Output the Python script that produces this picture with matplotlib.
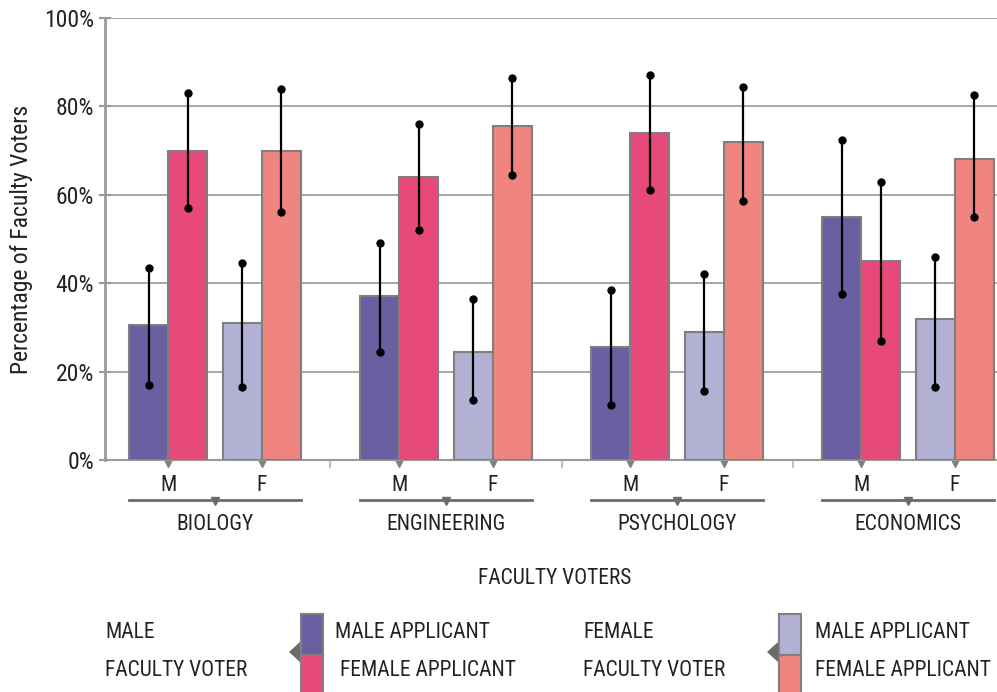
import numpy as np
import matplotlib.pyplot as plt
from matplotlib import font_manager
from matplotlib.patches import Rectangle, Polygon

# the reference uses a condensed sans; take the narrowest one that is installed
names = {f.name for f in font_manager.fontManager.ttflist}
fam = 'Liberation Sans'
fs, fs_ax = 13, 14
for cand, size, size_ax in [('Liberation Sans Narrow', 15.5, 17), ('Roboto Condensed', 15.5, 17),
                            ('DejaVu Sans Condensed', 13, 14), ('Roboto', 13.5, 14.5)]:
    if cand in names:
        fam, fs, fs_ax = cand, size, size_ax
        break
plt.rcParams['font.family'] = [fam, 'DejaVu Sans']

# data (percent)
departments = ['BIOLOGY', 'ENGINEERING', 'PSYCHOLOGY', 'ECONOMICS']
voters = ['M', 'F']

# male faculty voters
m_male_app = [30.5, 37.0, 25.5, 55.0]
m_male_lo = [17.0, 24.5, 12.5, 37.5]
m_male_hi = [43.5, 49.0, 38.5, 72.5]
m_fem_app = [70.0, 64.0, 74.0, 45.0]
m_fem_lo = [57.0, 52.0, 61.0, 27.0]
m_fem_hi = [83.0, 76.0, 87.0, 63.0]

# female faculty voters
f_male_app = [31.0, 24.5, 29.0, 32.0]
f_male_lo = [16.5, 13.5, 15.5, 16.5]
f_male_hi = [44.5, 36.5, 42.0, 46.0]
f_fem_app = [70.0, 75.5, 72.0, 68.0]
f_fem_lo = [56.0, 64.5, 58.5, 55.0]
f_fem_hi = [84.0, 86.5, 84.5, 82.5]

yticks = [0, 20, 40, 60, 80, 100]

c_mm = '#6a5fa0'
c_mf = '#e8497b'
c_fm = '#b3b1d3'
c_ff = '#f08580'
edge = '#7f7f7f'
grid = '#9a9a9a'
txt = '#222222'

fig = plt.figure(figsize=(9.97, 6.92), dpi=100)
ax = fig.add_axes([105 / 997, 1 - 460 / 692, 1 - 105 / 997, 442 / 692])

g = np.arange(len(departments))
w = 0.169
off = 0.203
pos_m = g - off
pos_f = g + off


def bars(x, vals, lo, hi, color):
    ax.bar(x, vals, w, color=color, edgecolor=edge, linewidth=1.5, zorder=3)
    for xi, l, h in zip(x, lo, hi):
        ax.plot([xi, xi], [l, h], color='black', lw=1.6, zorder=4)
        ax.plot([xi, xi], [l, h], 'o', color='black', ms=5, zorder=5)


bars(pos_m - w / 2, m_male_app, m_male_lo, m_male_hi, c_mm)
bars(pos_m + w / 2, m_fem_app, m_fem_lo, m_fem_hi, c_mf)
bars(pos_f - w / 2, f_male_app, f_male_lo, f_male_hi, c_fm)
bars(pos_f + w / 2, f_fem_app, f_fem_lo, f_fem_hi, c_ff)

ax.set_xlim(-0.476, 3.385)
ax.set_ylim(0, 100)
ax.set_yticks(yticks)
ax.set_yticklabels([f'{v}%' for v in yticks], fontsize=fs_ax, color=txt)
ax.tick_params(axis='y', direction='inout', length=8, width=1.5, color=grid, pad=4)
ax.tick_params(axis='x', length=0, labelbottom=False)
for v in yticks:
    ax.axhline(v, color=grid, lw=1.2, zorder=1)
for s in ['top', 'right']:
    ax.spines[s].set_visible(False)
ax.spines['left'].set_color(grid)
ax.spines['left'].set_linewidth(2)
ax.spines['bottom'].set_color(grid)
ax.spines['bottom'].set_linewidth(1.5)
ax.set_ylabel('Percentage of Faculty Voters', fontsize=fs_ax, color=txt, labelpad=8)

# hierarchical x labels
tr = ax.get_xaxis_transform()
for i, d in enumerate(departments):
    for p, lab in zip([pos_m[i], pos_f[i]], voters):
        ax.plot(p, -0.006, marker='v', ms=6, color=edge, transform=tr, clip_on=False)
        ax.text(p, -0.057, lab, transform=tr, ha='center', va='center', fontsize=fs, color=txt)
    ax.plot([pos_m[i] - w, pos_f[i] + w], [-0.09, -0.09], color='#6b6b6b', lw=2,
            transform=tr, clip_on=False)
    ax.plot(g[i], -0.093, marker='v', ms=6, color='#6b6b6b', transform=tr, clip_on=False)
    ax.text(g[i], -0.147, d, transform=tr, ha='center', va='center', fontsize=fs, color=txt)
    if i > 0:
        ax.plot([g[i] - 0.5, g[i] - 0.5], [0, -0.015], color='#c0c0c0', lw=1.5,
                transform=tr, clip_on=False)
ax.text(1.47, -0.267, 'FACULTY VOTERS', transform=tr, ha='center', va='center',
        fontsize=fs, color=txt)

# legend
H = 692


def fy(p):
    return 1 - p / H


fig.text(105 / 997, fy(633), 'MALE', fontsize=fs, color=txt, va='center')
fig.text(105 / 997, fy(671), 'FACULTY VOTER', fontsize=fs, color=txt, va='center')
fig.text(583 / 997, fy(633), 'FEMALE', fontsize=fs, color=txt, va='center')
fig.text(583 / 997, fy(671), 'FACULTY VOTER', fontsize=fs, color=txt, va='center')
fig.text(335 / 997, fy(633), 'MALE APPLICANT', fontsize=fs, color=txt, va='center')
fig.text(340 / 997, fy(671), 'FEMALE APPLICANT', fontsize=fs, color=txt, va='center')
fig.text(815 / 997, fy(633), 'MALE APPLICANT', fontsize=fs, color=txt, va='center')
fig.text(815 / 997, fy(671), 'FEMALE APPLICANT', fontsize=fs, color=txt, va='center')

for x0, ctop, cbot in [(301, c_mm, c_mf), (779, c_fm, c_ff)]:
    fig.patches.append(Rectangle((x0 / 997, fy(655)), 22 / 997, 41 / H, transform=fig.transFigure,
                                 facecolor=ctop, edgecolor=edge, lw=1.5))
    fig.patches.append(Rectangle((x0 / 997, fy(694)), 22 / 997, 39 / H, transform=fig.transFigure,
                                 facecolor=cbot, edgecolor=edge, lw=1.5))
    fig.patches.append(Polygon([((x0 - 12) / 997, fy(652)), ((x0 - 1) / 997, fy(642)),
                                ((x0 - 1) / 997, fy(662))], closed=True,
                               transform=fig.transFigure, facecolor='#6b6b6b', edgecolor='none'))

fig.savefig('out.png', dpi=100)
